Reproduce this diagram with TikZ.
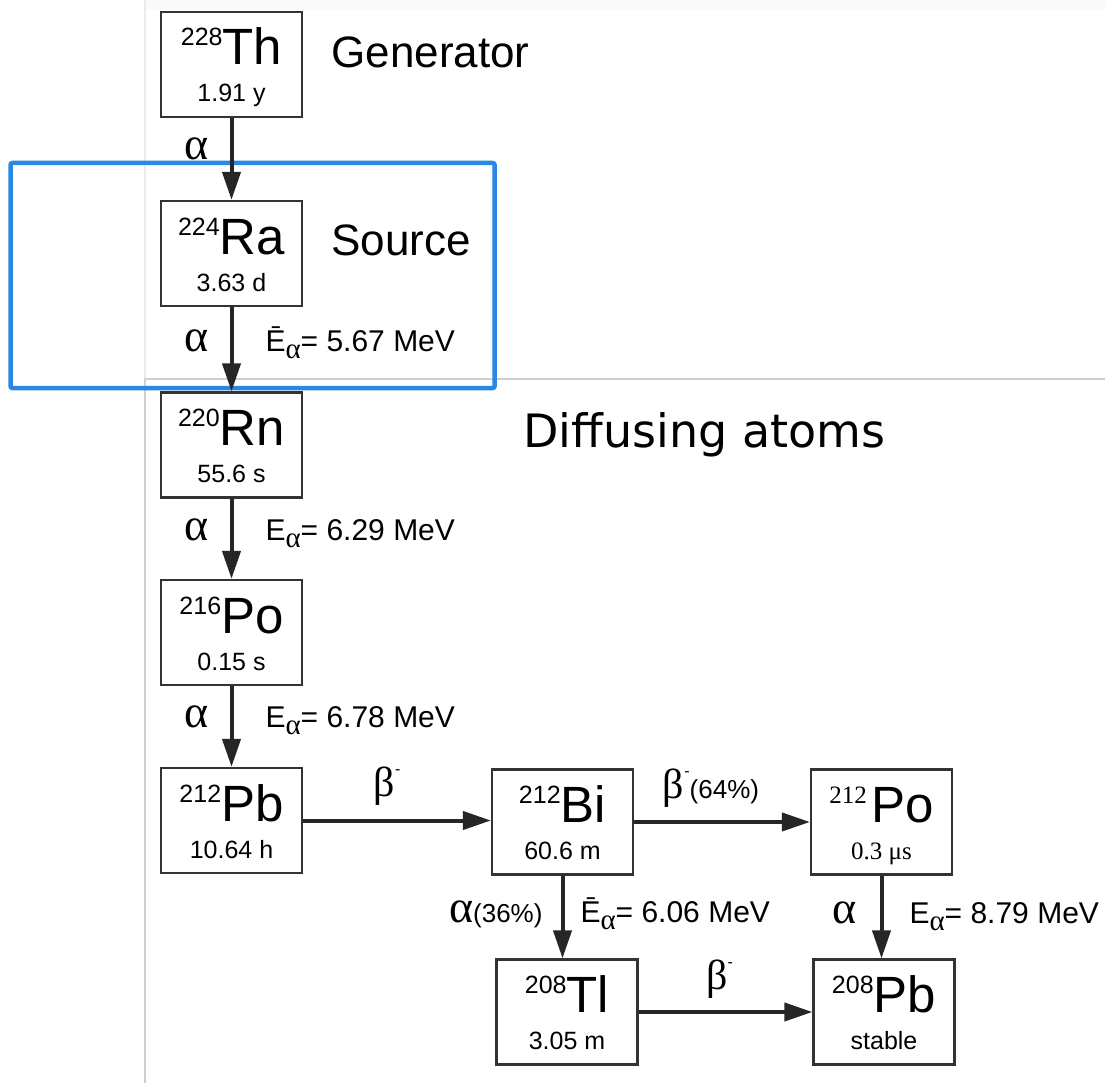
\documentclass[tikz,border=0pt]{standalone}
\usepackage{fontspec}
\setmainfont{Liberation Sans}
\newfontfamily\greekfont{Liberation Serif}
\newfontfamily\diffusefont{DejaVu Sans}
\usetikzlibrary{arrows.meta}
\definecolor{mblue}{RGB}{40,136,228}
\definecolor{mgray}{RGB}{208,208,208}
\newcommand{\al}{{\greekfont\fontsize{46}{46}\selectfont α}}
\newcommand{\subal}{\raisebox{-7pt}{\greekfont\fontsize{29}{29}\selectfont α}}
\newcommand{\betam}{{\greekfont\fontsize{42}{42}\selectfont β}\raisebox{22pt}{\fontsize{16}{16}\selectfont -}}
\newcommand{\nuc}[3]{\raisebox{19pt}{#1}{\fontsize{51}{51}\selectfont #2}\\#3}
\tikzset{
    nuclide/.style = {draw=black!80, line width=2.2pt, minimum width=141pt, minimum height=105pt,
        inner sep=0pt, align=center, font=\fontsize{25}{37}\selectfont, text height=75pt, text depth=0pt},
    decay/.style = {line width=4pt, black!85, -{Triangle[length=28pt,width=18pt]}},
    lab/.style = {inner sep=0pt, black, font=\fontsize{30}{30}\selectfont},
}

\begin{document}
\begin{tikzpicture}[x=1pt, y=-1pt]
    \useasboundingbox (0,0) rectangle (1105,1083);
    % panels and highlight
    \fill[black!2] (145,0) rectangle (1105,10);
    \draw[black!8, line width=1.5pt] (145,0) -- (145,379);
    \draw[mgray, line width=2pt] (145,1083) -- (145,379) -- (1105,379);
    \draw[mblue, line width=4.5pt, rounded corners=2pt] (10.5,163) rectangle (494.6,388);

    \node[nuclide] (th) at (231.5,64.5) {\nuc{228}{Th}{1.91 y}};
    \node[nuclide] (ra) at (231.5,253.5) {\nuc{224}{Ra}{3.63 d}};
    \node[nuclide] (rn) at (231.5,445) {\nuc{220}{Rn}{55.6 s}};
    \node[nuclide] (po216) at (231.5,632.5) {\nuc{216}{Po}{0.15 s}};
    \node[nuclide] (pb212) at (231.5,820.5) {\nuc{212}{Pb}{10.64 h}};
    \node[nuclide] (bi) at (562.5,822) {\nuc{212}{Bi}{60.6 m}};
    \node[nuclide] (po212) at (881.5,822) {\nuc{{\greekfont 212}\,}{Po}{{\greekfont 0.3 μs}}};
    \node[nuclide] (tl) at (567,1012) {\nuc{208}{Tl}{3.05 m}};
    \node[nuclide] (pb208) at (884,1012) {\nuc{208}{Pb}{stable}};

    \node[anchor=base west, font=\fontsize{44}{44}\selectfont] (gen) at (328,68) {Generator};
    \node[anchor=base west, font=\fontsize{44}{44}\selectfont] (src) at (328,256) {Source};
    \node[anchor=base west, font=\diffusefont\fontsize{46}{46}\selectfont] (diff) at (520,447) {Diffusing atoms};

    \draw[decay] (th) -- node[lab, anchor=base east, xshift=-21pt, yshift=-1pt] (a1) {\al} (ra);
    \draw[decay] (ra) -- node[lab, anchor=base east, xshift=-21pt, yshift=-2pt] (a2) {\al}
        node[lab, anchor=base west, xshift=32pt, yshift=-2pt] (e2) {Ē\subal= 5.67 MeV} (rn);
    \draw[decay] (rn) -- node[lab, anchor=base east, xshift=-21pt, yshift=-2pt] (a3) {\al}
        node[lab, anchor=base west, xshift=32pt, yshift=-2pt] (e3) {E\subal= 6.29 MeV} (po216);
    \draw[decay] (po216) -- node[lab, anchor=base east, xshift=-21pt, yshift=-1pt] (a4) {\al}
        node[lab, anchor=base west, xshift=32pt, yshift=-1pt] (e4) {E\subal= 6.78 MeV} (pb212);
    \draw[decay] (pb212.east) -- node[lab, anchor=base, xshift=-10pt, yshift=24pt] (b1) {\betam} (bi.west |- pb212.east);
    \draw[decay] (bi) -- node[lab, anchor=base, xshift=-11pt, yshift=24pt] (b2) {\betam{\fontsize{26}{26}\selectfont(64\%)}} (po212);
    \draw[decay] (bi.south) -- node[lab, anchor=base east, xshift=-18pt, yshift=-5pt] (a5) {\al{\fontsize{26}{26}\selectfont(36\%)}}
        node[lab, anchor=base west, xshift=16pt, yshift=-5pt] (e5) {Ē\subal= 6.06 MeV} (bi.south |- tl.north);
    \draw[decay] (po212.south) -- node[lab, anchor=base east, xshift=-23pt, yshift=-6pt] (a6) {\al}
        node[lab, anchor=base west, xshift=26pt, yshift=-6pt] (e6) {E\subal= 8.79 MeV} (po212.south |- pb208.north);
    \draw[decay] (tl) -- node[lab, anchor=base, xshift=-6pt, yshift=23pt] (b3) {\betam} (pb208);
\end{tikzpicture}
\end{document}
